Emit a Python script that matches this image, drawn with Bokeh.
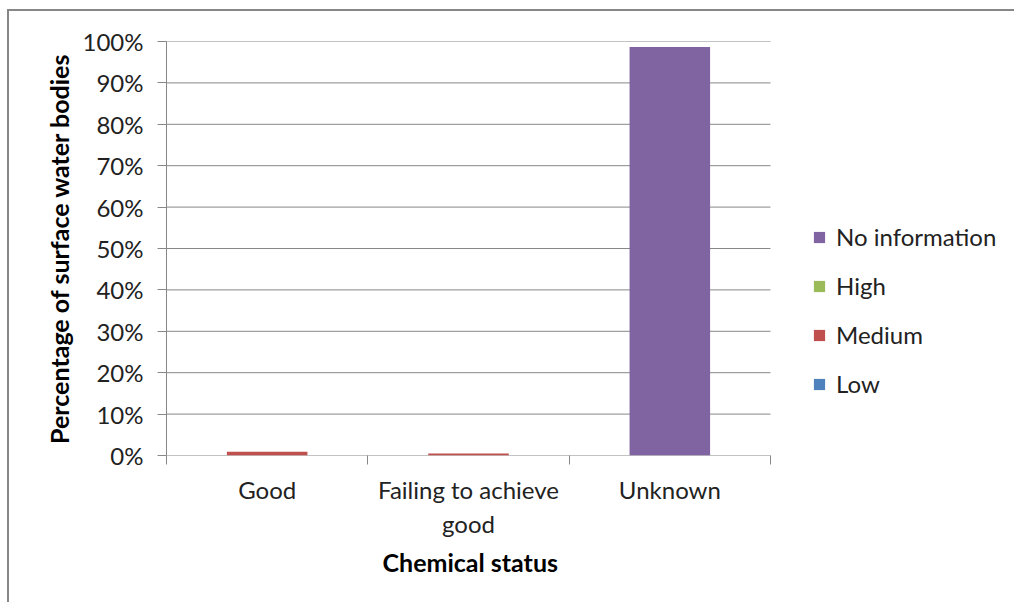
from bokeh.plotting import figure
from bokeh.models import (ColumnDataSource, Legend, LegendItem, FixedTicker,
                          PrintfTickFormatter, Range1d, Title)
from bokeh.embed import file_html
from bokeh.resources import INLINE

categories = ["Good", "Failing to achieve\ngood", "Unknown"]
series = ["Low", "Medium", "High", "No information"]
low = [0.0, 0.0, 0.0]
medium = [0.9, 0.5, 0.0]
high = [0.0, 0.0, 0.0]
no_information = [0.0, 0.0, 98.7]
colors = ["#4F81BD", "#C0504D", "#9BBB59", "#8064A2"]
y_ticks = list(range(0, 101, 10))
x_title = "Chemical status"
y_title = "Percentage of surface water bodies"

FONT = "Lato"
GRID = "#878787"
n = len(categories)
x_pos = [i + 0.5 for i in range(n)]
src = ColumnDataSource(dict(x=x_pos, Low=low, Medium=medium, High=high,
                            **{"No information": no_information}))

W, H = 1007, 593
BL, BT, BB = 157, 30, 149
CAT_PX = 604 / 3  # pixel width of one category
x_end = (W - BL) / CAT_PX  # frame extends to the right edge so the legend is visible

p = figure(width=W, height=H, output_backend="svg", toolbar_location=None,
           x_range=Range1d(0, x_end), y_range=Range1d(0, 100),
           min_border_left=BL, min_border_right=0, min_border_top=BT,
           min_border_bottom=BB)
p.outline_line_color = None
p.styles = {"margin-left": "7px", "margin-top": "9px",
            "border-left": "2px solid #878787", "border-top": "2px solid #878787"}

# grid lines only over the category area
p.segment(x0=[0] * len(y_ticks), x1=[n] * len(y_ticks), y0=y_ticks, y1=y_ticks,
          line_color=GRID, line_width=1)

renderers = p.vbar_stack(series, x="x", width=0.4, source=src, color=colors,
                         line_color=None)

# axes
yax = p.yaxis[0]
yax.ticker = FixedTicker(ticks=y_ticks)
yax.formatter = PrintfTickFormatter(format="%d%%")
yax.major_tick_out = 9
yax.major_tick_in = 0
yax.minor_tick_out = 0
yax.minor_tick_in = 0
yax.major_label_standoff = 14
yax.axis_line_color = GRID
yax.major_tick_line_color = GRID
yax.major_label_text_font = FONT
yax.major_label_text_font_size = "24px"
yax.major_label_text_color = "#222222"
yax.axis_label = y_title
yax.axis_label_text_font = FONT
yax.axis_label_text_font_style = "bold"
yax.axis_label_text_font_size = "25px"
yax.axis_label_text_color = "#000000"
yax.axis_label_standoff = 6

xax = p.xaxis[0]
xax.ticker = FixedTicker(ticks=x_pos, minor_ticks=list(range(n + 1)))
xax.major_label_overrides = {x: c for x, c in zip(x_pos, categories)}
xax.major_tick_out = 0
xax.major_tick_in = 0
xax.minor_tick_out = 9
xax.minor_tick_in = 0
xax.minor_tick_line_color = GRID
xax.axis_line_color = None
xax.major_label_standoff = 10
xax.major_label_text_font = FONT
xax.major_label_text_font_size = "24px"
xax.major_label_text_color = "#222222"

# x-axis title centred under the category area (not the whole frame)
p.add_layout(Title(text=x_title, align="left", offset=216, standoff=6,
                   text_font=FONT, text_font_style="bold", text_font_size="25px",
                   text_color="#000000"), "below")

p.xgrid.grid_line_color = None
p.ygrid.grid_line_color = None

items = [LegendItem(label=s, renderers=[r]) for s, r in zip(series, renderers)][::-1]
legend = Legend(items=items, location=(646, 57), padding=0, margin=0,
                border_line_color=None, background_fill_alpha=0,
                glyph_width=14, glyph_height=14, label_height=24, spacing=20,
                label_standoff=10, label_text_font=FONT,
                label_text_font_size="24px", label_text_color="#222222")
p.add_layout(legend, "center")

open("out.html", "w").write(file_html(p, INLINE))
